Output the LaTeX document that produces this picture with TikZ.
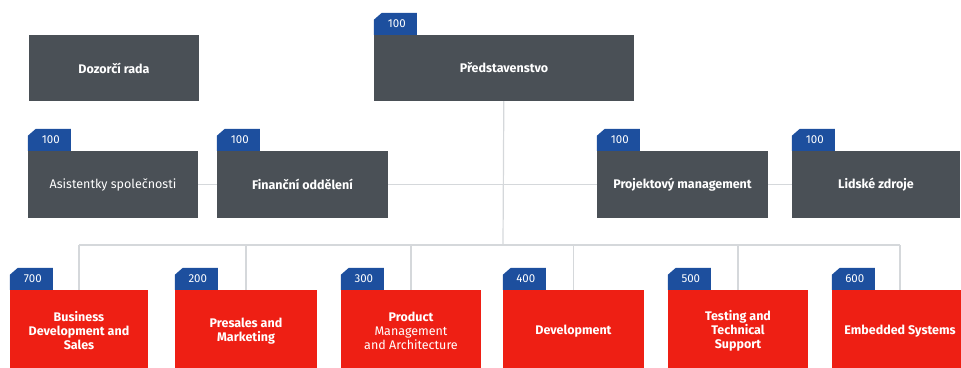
\documentclass[tikz,border=0pt]{standalone}
\usepackage{fontspec}
\setmainfont{Fira Sans}
\usetikzlibrary{backgrounds}

\definecolor{boxgray}{HTML}{4A5056}
\definecolor{tabblue}{HTML}{1D4F9E}
\definecolor{unitred}{HTML}{EE1F14}
\definecolor{linegray}{HTML}{D5D8DB}

\tikzset{
    board/.style={fill=boxgray, text=white, inner sep=0pt, align=center,
        font=\fontsize{12.5}{15}\selectfont\bfseries},
    unit/.style={fill=unitred, text=white, inner sep=0pt, align=center,
        minimum height=82pt, font=\fontsize{12.5}{14}\selectfont\bfseries},
    tabnum/.style={text=white, inner sep=0pt, font=\fontsize{11.5}{13}\selectfont},
    link/.style={draw=linegray, line width=1.2pt}
}

% blue tab with a cut corner on top of a box
\newcommand{\tabon}[3]{%
    \fill[tabblue] (#1.north west) -- ++(0,-15) -- ++(8,-7) -- ++(35,0)
        -- ++(0,22) -- cycle;
    \node[tabnum] (#2) at ([xshift=23pt,yshift=11pt]#1.north west) {#3};
}

\begin{document}
\begin{tikzpicture}[x=1pt, y=-1pt]
    \useasboundingbox (0,0) rectangle (961,367);
    \clip (0,0) rectangle (961,367);

    % Top row
    \node[board, minimum width=170pt, minimum height=66pt] (dozor) at (114,68) {Dozorčí rada};
    \node[board, minimum width=260pt, minimum height=66pt] (pred) at (504,68) {Představenstvo};
    \tabon{pred}{predtab}{100}

    % Staff row
    \node[board, minimum width=170pt, minimum height=67pt, font=\fontsize{12.5}{15}\selectfont] (asist) at (113,184.5) {Asistentky společnosti};
    \node[board, minimum width=171pt, minimum height=67pt] (fin) at (302.5,184.5) {Finanční oddělení};
    \node[board, minimum width=171pt, minimum height=67pt] (proj) at (682.5,184.5) {Projektový management};
    \node[board, minimum width=168pt, minimum height=67pt] (lidske) at (876,184.5) {Lidské zdroje};
    \tabon{asist}{asisttab}{100}
    \tabon{fin}{fintab}{100}
    \tabon{proj}{projtab}{100}
    \tabon{lidske}{lidsketab}{100}

    % Divisions
    \node[unit, minimum width=138pt] (bizdev) at (79,331) {Business\\Development and\\Sales};
    \node[unit, minimum width=142pt] (presales) at (246,331) {Presales and\\Marketing};
    \node[unit, minimum width=140pt] (product) at (411,331) {Product\\\mdseries Management\\\mdseries and Architecture};
    \node[unit, minimum width=141pt] (dev) at (573.5,331) {Development};
    \node[unit, minimum width=140pt] (testing) at (738,331) {Testing and\\Technical\\Support};
    \node[unit, minimum width=136pt] (embedded) at (900,331) {Embedded Systems};
    \tabon{bizdev}{bizdevtab}{700}
    \tabon{presales}{presalestab}{200}
    \tabon{product}{producttab}{300}
    \tabon{dev}{devtab}{400}
    \tabon{testing}{testingtab}{500}
    \tabon{embedded}{embeddedtab}{600}

    % Connectors
    \coordinate (bus) at (503,245);
    \begin{scope}[on background layer]
        \draw[link] (asist) -- (fin);
        \draw[link] (fin) -- (proj);
        \draw[link] (proj) -- (lidske);
        \draw[link] (pred) -- (bus);
        \draw[link] (bizdev |- bus) -- (embedded |- bus);
        \foreach \u in {bizdev,presales,product,dev,testing,embedded}
            \draw[link] (\u |- bus) -- (\u.north);
    \end{scope}
\end{tikzpicture}
\end{document}
